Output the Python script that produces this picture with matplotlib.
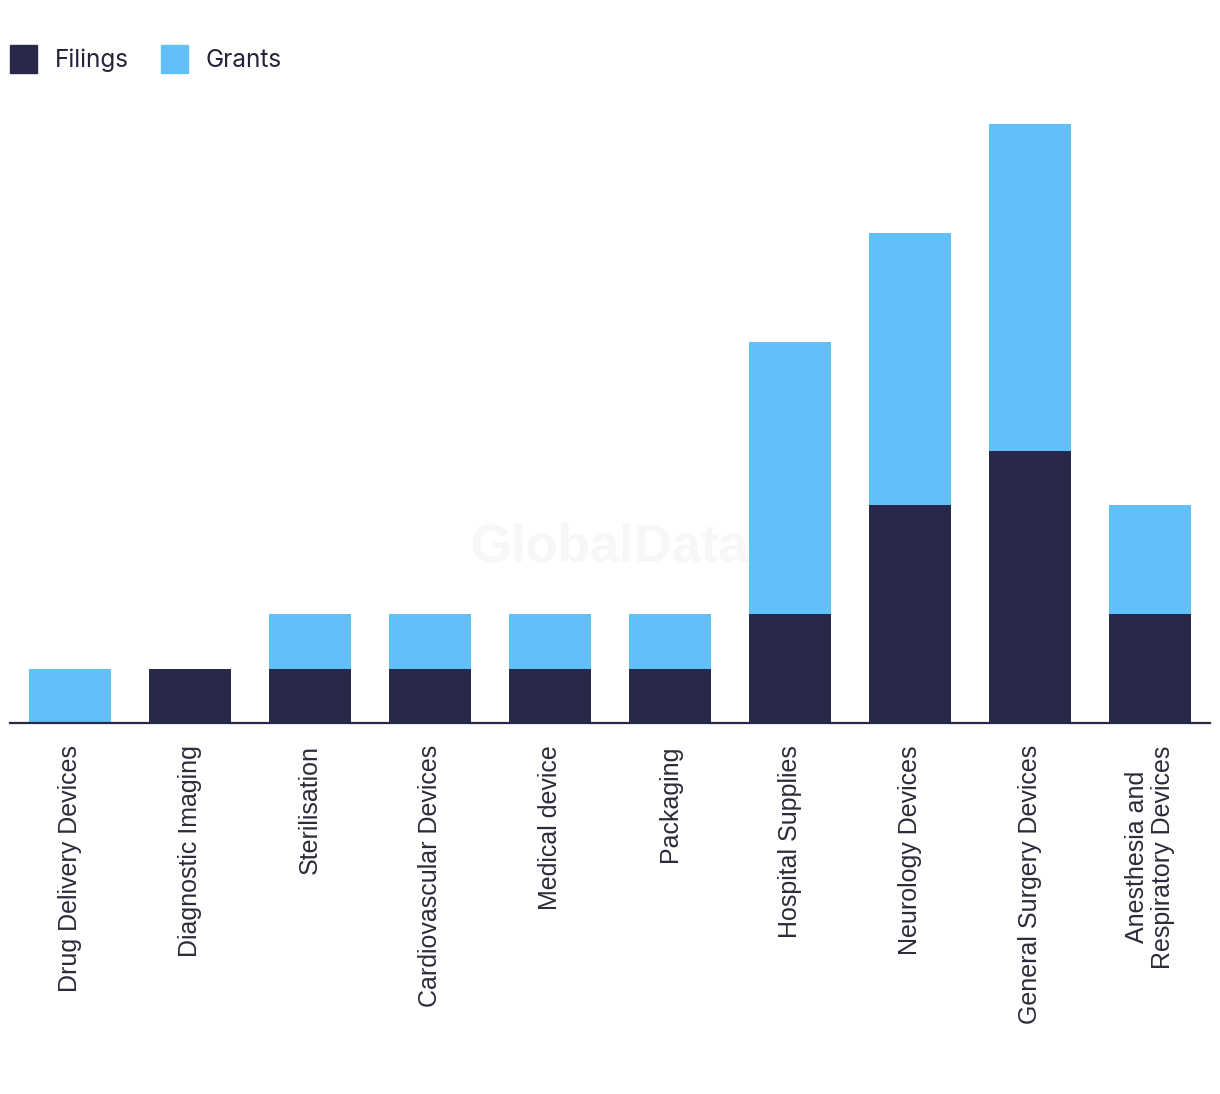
import matplotlib.pyplot as plt
from matplotlib.patches import Patch

categories = [
    "Drug Delivery Devices", "Diagnostic Imaging", "Sterilisation",
    "Cardiovascular Devices", "Medical device", "Packaging",
    "Hospital Supplies", "Neurology Devices", "General Surgery Devices",
    "Anesthesia and\nRespiratory Devices",
]
filings = [0, 1, 1, 1, 1, 1, 2, 4, 5, 2]
grants = [1, 0, 1, 1, 1, 1, 5, 5, 6, 2]

navy = "#27284a"
sky = "#62c0f8"

W, H = 1220, 1094
fig = plt.figure(figsize=(W / 100, H / 100), dpi=100)
ax = fig.add_axes([10 / W, 1 - 723 / H, 1200 / W, (723 - 124) / H])

x = range(len(categories))
ax.bar(x, filings, width=0.69, color=navy, label="Filings")
ax.bar(x, grants, width=0.69, bottom=filings, color=sky, label="Grants")

ax.set_xlim(-0.5, len(categories) - 0.5)
ax.set_ylim(0, 11)
ax.set_yticks([])
for s in ["top", "right", "left"]:
    ax.spines[s].set_visible(False)
ax.spines["bottom"].set_color(navy)
ax.spines["bottom"].set_linewidth(1.6)

ax.set_xticks(list(x))
ax.set_xticklabels(categories, rotation=90, fontsize=18, color="#2b2b3a",
                   family=["Liberation Sans", "DejaVu Sans"],
                   va="top", ha="center", multialignment="center",
                   linespacing=1.15)
ax.tick_params(axis="x", length=0, pad=16)

fig.text(610 / W, 1 - 547 / H, "GlobalData", fontsize=38, fontweight="bold",
         color="#f7f7f7", ha="center", va="center",
         family=["Liberation Sans", "DejaVu Sans"], zorder=0)

handles = [Patch(color=navy, label="Filings"), Patch(color=sky, label="Grants")]
leg = fig.legend(handles=handles, loc="upper left",
                 bbox_to_anchor=(-2 / W, 1 - 33 / H), borderpad=0,
                 ncol=2, frameon=False, handlelength=1.12,
                 handleheight=1.4, handletextpad=0.7, columnspacing=1.35,
                 prop={"family": ["Inter", "DejaVu Sans"], "size": 17.5})
for t in leg.get_texts():
    t.set_color("#23233a")

fig.savefig("out.png", dpi=100)
